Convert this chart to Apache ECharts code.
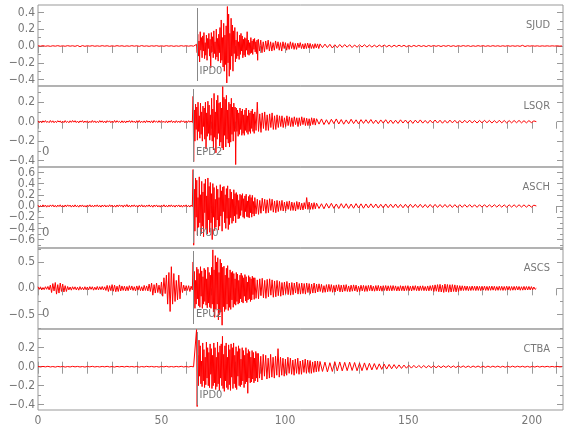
<!DOCTYPE html>
<html><head><meta charset="utf-8">
<script src="https://cdn.jsdelivr.net/npm/echarts@6/dist/echarts.min.js"></script>
<style>html,body{margin:0;padding:0;background:#fff}#c{width:580px;height:440px}</style>
</head><body><div id="c"></div>
<script>
// ---------------- DATA ----------------
const stations = ['SJUD', 'LSQR', 'ASCH', 'ASCS', 'CTBA'];
const pickLabels = ['IPD0', 'EPD2', 'IPU0', 'EPU2', 'IPD0'];
const pickTimes = [64.2, 62.8, 62.8, 62.8, 64.2];
const offsetLabels = ['', '0', '0', '0', ''];
const xTickLabels = [0, 50, 100, 150, 200];
const xTicks = [0, 10, 20, 30, 40, 50, 60, 70, 80, 90, 100, 110, 120, 130, 140, 150, 160, 170, 180, 190, 200, 210];
const yMajor1 = [-0.4, -0.2, 0, 0.2, 0.4];
const yMinor1 = [-0.3, -0.1, 0.1, 0.3];
const yMajor2 = [-0.4, -0.2, 0, 0.2];
const yMinor2 = [-0.3, -0.1, 0.1, 0.3];
const yMajor3 = [-0.6, -0.4, -0.2, 0, 0.2, 0.4, 0.6];
const yMinor3 = [-0.7, -0.5, -0.3, -0.1, 0.1, 0.3, 0.5];
const yMajor4 = [-0.5, 0, 0.5];
const yMinor4 = [-0.75, -0.25, 0.25, 0.75];
const yMajor5 = [-0.4, -0.2, 0, 0.2];
const yMinor5 = [-0.3, -0.1, 0.1, 0.3];

// Each trace: pre-event samples from t=0, event samples from the pick (0.25 s for 25 s,
// then 0.5 s for 25 s), coda samples from pick+50 s.
// SJUD
const sjudPre = [0.003,-0.002,0.004,-0.003,0.002,-0.004,0.003,-0.002,0.004,-0.003,
0.002,-0.003,0.004,-0.002,0.003,-0.004,0.006,-0.008,0.005,-0.004,
0.003,-0.002,0.004,-0.003,0.002,-0.003,0.004,-0.002,0.003,-0.004,
0.002,-0.003,0.004,-0.002,0.003,-0.004,0.002,-0.003,0.004,-0.002,
0.003,-0.004,0.005,-0.003,0.002,-0.004,0.003,-0.002,0.004,-0.003,
0.002,-0.003,0.004,-0.002,0.003,-0.004,0.002,-0.003,0.004,-0.002,
0.003,-0.002,0.003,-0.002];
const sjudEvtA = [0.02,-0.08,0.14,-0.12,0.06,-0.19,0.17,-0.05,0.1,-0.14,
0.12,-0.06,0.16,-0.15,0.04,-0.11,0.13,-0.17,0.09,-0.03,
0.15,-0.12,0.08,-0.26,0.16,-0.07,0.11,-0.14,0.18,-0.09,
0.05,-0.16,0.2,-0.13,0.09,-0.18,0.14,-0.08,0.22,-0.2,
0.31,-0.17,0.1,-0.25,0.27,-0.3,0.13,-0.22,0.24,-0.44,
0.47,-0.2,0.38,-0.36,0.15,-0.28,0.33,-0.12,0.25,-0.3,
0.18,-0.09,0.22,-0.19,0.07,-0.15,0.17,-0.12,0.05,-0.16,
0.13,-0.1,0.15,-0.06,0.12,-0.14,0.08,-0.11,0.1,-0.13,
0.09,-0.05,0.17,-0.1,0.07,-0.11,0.04,-0.09,0.1,-0.08,
0.06,-0.1,0.08,-0.04,0.09,-0.07,0.05,-0.09,0.07,-0.17];
const sjudEvtB = [0.08,-0.06,0.07,-0.08,0.05,-0.07,0.06,-0.04,0.07,-0.06,
0.05,-0.06,0.04,-0.05,0.06,-0.03,0.05,-0.05,0.04,-0.06,
0.05,-0.03,0.04,-0.05,0.03,-0.04,0.05,-0.03,0.04,-0.04,
0.03,-0.04,0.035,-0.02,0.04,-0.03,0.025,-0.035,0.03,-0.03,
0.035,-0.025,0.03,-0.03,0.02,-0.03,0.028,-0.022,0.025,-0.03];
const sjudCoda = [0.025,-0.02,0.022,-0.018,0.02,-0.024,0.015,-0.02,0.018,-0.016,
0.017,-0.014,0.016,-0.018,0.012,-0.015,0.014,-0.012,0.015,-0.013,
0.012,-0.013,0.01,-0.012,0.011,-0.009,0.012,-0.01,0.009,-0.011,
0.009,-0.008,0.01,-0.007,0.008,-0.009,0.006,-0.008,0.007,-0.006,
0.007,-0.006,0.005,-0.007,0.006,-0.005,0.006,-0.004,0.005,-0.006,
0.005,-0.004,0.006,-0.005,0.004,-0.005,0.004,-0.004,0.005,-0.003,
0.004,-0.005,0.003,-0.004,0.004,-0.003,0.004,-0.004,0.003,-0.004,
0.004,-0.003,0.003,-0.004,0.003,-0.003,0.004,-0.003,0.003,-0.003,
0.003,-0.004,0.008,-0.006,0.003,-0.002,0.003,-0.002,0.002,-0.003,
0.002,-0.002,0.002,-0.002,0.002,-0.001,0.002,-0.001,0.0];

// LSQR
const lsqrPre = [0.008,-0.01,0.004,-0.012,0.009,-0.006,0.011,-0.008,0.003,-0.01,
0.012,-0.007,0.009,-0.011,0.005,-0.009,0.01,-0.004,0.008,-0.012,
0.006,-0.01,0.011,-0.008,0.004,-0.011,0.009,-0.007,0.012,-0.005,
0.01,-0.009,0.006,-0.012,0.008,-0.004,0.011,-0.01,0.007,-0.008,
0.009,-0.012,0.005,-0.009,0.012,-0.007,0.008,-0.011,0.004,-0.01,
0.011,-0.006,0.009,-0.01,0.007,-0.012,0.01,-0.005,0.009,-0.011,
0.006,-0.009,0.012,-0.008,0.01,-0.006,0.004,-0.011,0.009,-0.01,
0.008,-0.012,0.007,-0.005,0.011,-0.009,0.01,-0.007,0.006,-0.012,
0.01,-0.008,0.012,-0.01,0.005,-0.009,0.008,-0.011,0.011,-0.006,
0.007,-0.01,0.009,-0.012,0.012,-0.005,0.006,-0.009,0.01,-0.008,
0.011,-0.007,0.004,-0.01,0.009,-0.012,0.008,-0.006,0.012,-0.009,
0.006,-0.011,0.01,-0.008,0.007,-0.01,0.011,-0.004,0.009,-0.012,
0.008,-0.009,0.01,-0.006,0.007,-0.008];
const lsqrEvtA = [0.26,-0.41,0.12,-0.2,0.18,-0.08,0.15,-0.19,0.2,-0.1,
0.06,-0.17,0.19,-0.13,0.1,-0.2,0.16,-0.05,0.14,-0.18,
0.2,-0.28,0.09,-0.15,0.21,-0.12,0.17,-0.19,0.07,-0.14,
0.24,-0.2,0.13,-0.29,0.29,-0.16,0.1,-0.32,0.22,-0.18,
0.27,-0.12,0.19,-0.25,0.2,-0.21,0.14,-0.27,0.36,-0.29,
0.25,-0.14,0.23,-0.26,0.27,-0.18,0.12,-0.22,0.2,-0.26,
0.18,-0.21,0.24,-0.13,0.15,-0.2,0.19,-0.1,0.15,-0.44,
0.14,-0.1,0.12,-0.15,0.09,-0.13,0.14,-0.08,0.11,-0.14,
0.13,-0.12,0.07,-0.14,0.12,-0.09,0.14,-0.11,0.06,-0.13,
0.12,-0.1,0.09,-0.12,0.11,-0.07,0.13,-0.1,0.08,-0.12];
const lsqrEvtB = [0.1,-0.09,0.2,-0.1,0.08,-0.11,0.09,-0.07,0.1,-0.09,
0.07,-0.09,0.08,-0.06,0.09,-0.08,0.06,-0.08,0.07,-0.06,
0.06,-0.05,0.06,-0.06,0.04,-0.05,0.06,-0.04,0.05,-0.05,
0.04,-0.05,0.05,-0.03,0.04,-0.05,0.04,-0.04,0.05,-0.03,
0.04,-0.04,0.035,-0.04,0.03,-0.04,0.04,-0.03,0.035,-0.035];
const lsqrCoda = [0.03,-0.025,0.028,-0.03,0.02,-0.027,0.025,-0.02,0.028,-0.024,
0.022,-0.026,0.018,-0.022,0.025,-0.02,0.019,-0.023,0.021,-0.018,
0.02,-0.017,0.022,-0.019,0.016,-0.021,0.018,-0.015,0.02,-0.018,
0.017,-0.019,0.015,-0.018,0.019,-0.014,0.017,-0.016,0.015,-0.018,
0.016,-0.014,0.018,-0.015,0.013,-0.016,0.015,-0.013,0.017,-0.014,
0.015,-0.016,0.013,-0.015,0.016,-0.012,0.014,-0.015,0.012,-0.014,
0.014,-0.012,0.015,-0.013,0.011,-0.014,0.013,-0.012,0.014,-0.011,
0.013,-0.014,0.011,-0.013,0.014,-0.012,0.012,-0.013,0.011,-0.012,
0.012,-0.011,0.013,-0.012,0.01,-0.012,0.011,-0.01,0.008,0.0];

// ASCH
const aschPre = [0.015,-0.02,0.008,-0.018,0.02,-0.012,0.017,-0.021,0.01,-0.016,
0.019,-0.009,0.02,-0.017,0.012,-0.02,0.016,-0.011,0.021,-0.018,
0.011,-0.019,0.018,-0.014,0.02,-0.008,0.016,-0.02,0.013,-0.017,
0.02,-0.015,0.01,-0.021,0.017,-0.012,0.019,-0.018,0.009,-0.02,
0.018,-0.011,0.021,-0.016,0.012,-0.019,0.016,-0.01,0.02,-0.017,
0.012,-0.02,0.017,-0.013,0.019,-0.018,0.01,-0.016,0.021,-0.012,
0.017,-0.019,0.011,-0.02,0.018,-0.014,0.02,-0.009,0.015,-0.021,
0.019,-0.012,0.025,-0.018,0.014,-0.02,0.017,-0.011,0.02,-0.016,
0.01,-0.019,0.018,-0.013,0.021,-0.017,0.012,-0.02,0.016,-0.01,
0.02,-0.016,0.013,-0.021,0.017,-0.011,0.019,-0.018,0.01,-0.02,
0.016,-0.012,0.021,-0.017,0.011,-0.019,0.018,-0.013,0.02,-0.015,
0.012,-0.02,0.017,-0.01,0.019,-0.018,0.014,-0.021,0.016,-0.012,
0.02,-0.016,0.011,-0.019,0.017,-0.013];
const aschEvtA = [0.65,-0.7,0.3,-0.45,0.5,-0.2,0.46,-0.52,0.15,-0.38,
0.52,-0.3,0.2,-0.5,0.44,-0.36,0.25,-0.55,0.4,-0.12,
0.48,-0.42,0.18,-0.5,0.5,-0.25,0.35,-0.47,0.42,-0.3,
0.22,-0.6,0.4,-0.2,0.33,-0.44,0.12,-0.38,0.36,-0.25,
0.3,-0.43,0.15,-0.36,0.38,-0.18,0.27,-0.45,0.34,-0.1,
0.35,-0.3,0.2,-0.4,0.31,-0.22,0.36,-0.42,0.14,-0.33,
0.3,-0.21,0.25,-0.31,0.12,-0.27,0.29,-0.18,0.22,-0.3,
0.24,-0.15,0.2,-0.23,0.1,-0.22,0.21,-0.17,0.19,-0.08,
0.22,-0.2,0.13,-0.22,0.18,-0.1,0.21,-0.19,0.09,-0.2,
0.17,-0.21,0.2,-0.12,0.15,-0.2,0.19,-0.14,0.08,-0.18];
const aschEvtB = [0.15,-0.14,0.12,-0.15,0.1,-0.13,0.14,-0.09,0.12,-0.13,
0.11,-0.12,0.13,-0.08,0.12,-0.11,0.09,-0.12,0.1,-0.1,
0.09,-0.08,0.1,-0.09,0.07,-0.09,0.08,-0.06,0.09,-0.08,
0.07,-0.08,0.06,-0.09,0.08,-0.06,0.07,-0.07,0.05,-0.07,
0.06,-0.05,0.15,-0.06,0.07,-0.06,0.05,-0.06,0.06,-0.05];
const aschCoda = [0.05,-0.045,0.04,-0.05,0.045,-0.038,0.048,-0.042,0.036,-0.045,
0.042,-0.038,0.04,-0.044,0.035,-0.04,0.042,-0.036,0.038,-0.04,
0.036,-0.034,0.038,-0.032,0.035,-0.037,0.03,-0.034,0.036,-0.031,
0.032,-0.03,0.034,-0.031,0.028,-0.032,0.03,-0.029,0.031,-0.028,
0.029,-0.027,0.03,-0.028,0.026,-0.029,0.027,-0.025,0.028,-0.026,
0.026,-0.025,0.027,-0.024,0.025,-0.026,0.024,-0.025,0.023,-0.024,
0.024,-0.022,0.025,-0.023,0.022,-0.024,0.023,-0.021,0.024,-0.022,
0.022,-0.021,0.023,-0.02,0.022,-0.021,0.02,-0.022,0.021,-0.02,
0.021,-0.02,0.022,-0.019,0.02,-0.021,0.019,-0.02,0.015,0.0];

// ASCS (pre-event at 0.5 s, coda at 0.5 s)
const ascsPre = [0.03,-0.02,0.028,-0.032,0.015,-0.025,0.03,-0.018,0.035,-0.03,
0.06,-0.08,0.09,-0.05,0.11,-0.11,0.07,-0.09,0.1,-0.06,
0.08,-0.07,0.05,-0.06,0.035,-0.03,0.025,-0.035,0.03,-0.02,
0.028,-0.03,0.02,-0.035,0.032,-0.025,0.018,-0.03,0.03,-0.028,
0.025,-0.03,0.032,-0.02,0.03,-0.035,0.022,-0.028,0.035,-0.03,
0.03,-0.025,0.035,-0.03,0.028,-0.04,0.055,-0.06,0.05,-0.045,
0.07,-0.055,0.06,-0.065,0.04,-0.06,0.065,-0.05,0.045,-0.04,
0.04,-0.05,0.035,-0.045,0.05,-0.03,0.045,-0.04,0.03,-0.05,
0.045,-0.035,0.05,-0.045,0.03,-0.05,0.055,-0.04,0.045,-0.05,
0.08,-0.06,0.1,-0.13,0.07,-0.09,0.1,-0.08,0.06,-0.1,
0.12,-0.15,0.2,-0.1,0.25,-0.3,0.3,-0.44,0.41,-0.3,
0.28,-0.25,0.15,-0.22,0.25,-0.2,0.12,-0.08,0.06,-0.05,
0.05,-0.04,0.05,-0.06,0.04,-0.03];
const ascsEvtA = [0.5,-0.25,0.32,-0.38,0.15,-0.3,0.4,-0.2,0.36,-0.33,
0.28,-0.36,0.41,-0.15,0.33,-0.38,0.22,-0.3,0.38,-0.25,
0.35,-0.32,0.18,-0.37,0.4,-0.28,0.3,-0.36,0.25,-0.38,
0.4,-0.3,0.73,-0.45,0.35,-0.55,0.62,-0.4,0.5,-0.3,
0.58,-0.6,0.3,-0.5,0.55,-0.45,0.48,-0.7,0.4,-0.35,
0.42,-0.44,0.25,-0.4,0.38,-0.3,0.43,-0.42,0.2,-0.36,
0.35,-0.4,0.3,-0.22,0.32,-0.36,0.28,-0.3,0.18,-0.32,
0.3,-0.25,0.27,-0.3,0.15,-0.28,0.25,-0.2,0.29,-0.26,
0.24,-0.28,0.2,-0.15,0.26,-0.24,0.22,-0.27,0.12,-0.22,
0.24,-0.2,0.21,-0.25,0.18,-0.22,0.23,-0.12,0.2,-0.21];
const ascsEvtB = [0.2,-0.19,0.16,-0.2,0.18,-0.14,0.19,-0.18,0.15,-0.19,
0.17,-0.16,0.18,-0.13,0.16,-0.17,0.14,-0.16,0.15,-0.14,
0.13,-0.15,0.11,-0.13,0.12,-0.1,0.13,-0.12,0.1,-0.13,
0.11,-0.12,0.1,-0.09,0.12,-0.11,0.09,-0.11,0.1,-0.1,
0.09,-0.11,0.1,-0.08,0.09,-0.1,0.08,-0.09,0.1,-0.09];
const ascsCoda = [0.08,-0.07,0.085,-0.06,0.075,-0.08,0.05,-0.075,0.07,-0.065,
0.075,-0.06,0.07,-0.075,0.055,-0.07,0.065,-0.05,0.07,-0.068,
0.06,-0.07,0.065,-0.055,0.07,-0.06,0.045,-0.065,0.06,-0.055,
0.065,-0.05,0.06,-0.065,0.04,-0.06,0.058,-0.05,0.055,-0.06,
0.05,-0.058,0.055,-0.045,0.06,-0.052,0.04,-0.055,0.052,-0.048,
0.055,-0.05,0.045,-0.055,0.05,-0.04,0.052,-0.05,0.048,-0.045,
0.05,-0.048,0.052,-0.04,0.046,-0.05,0.035,-0.048,0.05,-0.045,
0.045,-0.05,0.048,-0.042,0.05,-0.046,0.04,-0.05,0.047,-0.038,
0.05,-0.045,0.042,-0.048,0.046,-0.04,0.048,-0.045,0.035,-0.047,
0.045,-0.048,0.05,-0.042,0.055,-0.06,0.065,-0.055,0.07,-0.065,
0.075,-0.07,0.06,-0.078,0.08,-0.065,0.072,-0.075,0.068,-0.07,
0.07,-0.06,0.065,-0.068,0.055,-0.06,0.05,-0.045,0.048,-0.042,
0.045,-0.04,0.042,-0.045,0.035,-0.042,0.044,-0.038,0.04,-0.043,
0.042,-0.04,0.038,-0.044,0.04,-0.035,0.042,-0.04,0.036,-0.041,
0.04,-0.038,0.042,-0.035,0.039,-0.041,0.033,-0.038,0.04,-0.037,
0.038,-0.04,0.035,-0.038,0.04,-0.033,0.037,-0.039,0.034,-0.036,
0.036,-0.035,0.038,-0.032,0.035,-0.037,0.03,-0.035,0.036,-0.033,
0.034,-0.032,0.035,-0.03,0.032,-0.03,0.025,-0.02,0.0];

// CTBA
const ctbaPre = [0.002,-0.003,0.003,-0.002,0.004,-0.003,0.002,-0.004,0.003,-0.002,
0.003,-0.004,0.002,-0.003,0.004,-0.002,0.003,-0.003,0.002,-0.004,
0.003,-0.002,0.004,-0.003,0.002,-0.003,0.003,-0.002,0.004,-0.003,
0.002,-0.004,0.003,-0.002,0.003,-0.003,0.004,-0.002,0.002,-0.003,
0.003,-0.004,0.002,-0.003,0.004,-0.002,0.003,-0.003,0.002,-0.004,
0.003,-0.002,0.004,-0.003,0.002,-0.003,0.003,-0.002,0.004,-0.003,
0.002,-0.003,0.003,-0.002];
const ctbaEvtA = [0.39,-0.42,0.12,-0.2,0.28,-0.1,0.22,-0.18,0.06,-0.21,
0.25,-0.15,0.18,-0.22,0.1,-0.19,0.26,-0.12,0.2,-0.2,
0.15,-0.22,0.24,-0.08,0.19,-0.23,0.12,-0.2,0.25,-0.17,
0.2,-0.24,0.1,-0.21,0.26,-0.18,0.15,-0.25,0.22,-0.12,
0.24,-0.2,0.32,-0.23,0.13,-0.26,0.22,-0.15,0.25,-0.22,
0.1,-0.24,0.23,-0.19,0.18,-0.25,0.24,-0.11,0.2,-0.23,
0.25,-0.18,0.12,-0.22,0.21,-0.24,0.16,-0.1,0.22,-0.2,
0.19,-0.21,0.08,-0.19,0.2,-0.15,0.17,-0.22,0.12,-0.18,
0.2,-0.16,0.14,-0.28,0.18,-0.12,0.16,-0.17,0.1,-0.16,
0.17,-0.13,0.15,-0.17,0.09,-0.15,0.16,-0.12,0.14,-0.16];
const ctbaEvtB = [0.14,-0.12,0.11,-0.14,0.13,-0.1,0.12,-0.13,0.09,-0.12,
0.13,-0.11,0.1,-0.12,0.11,-0.09,0.19,-0.11,0.1,-0.09,
0.09,-0.1,0.08,-0.09,0.1,-0.07,0.09,-0.08,0.07,-0.09,
0.08,-0.07,0.09,-0.08,0.06,-0.08,0.07,-0.06,0.08,-0.07,
0.07,-0.06,0.065,-0.07,0.05,-0.06,0.06,-0.055,0.06,-0.05];
const ctbaCoda = [0.055,-0.05,0.048,-0.055,0.042,-0.05,0.052,-0.045,0.05,-0.044,
0.046,-0.042,0.048,-0.04,0.044,-0.043,0.038,-0.042,0.04,-0.037,
0.036,-0.034,0.033,-0.03,0.03,-0.028,0.027,-0.025,0.024,-0.022,
0.022,-0.02,0.019,-0.018,0.017,-0.016,0.015,-0.015,0.014,-0.013,
0.013,-0.012,0.012,-0.011,0.011,-0.01,0.01,-0.011,0.009,-0.01,
0.009,-0.008,0.01,-0.009,0.008,-0.009,0.008,-0.007,0.008,-0.008,
0.007,-0.008,0.007,-0.006,0.007,-0.007,0.006,-0.007,0.006,-0.006,
0.006,-0.005,0.006,-0.006,0.005,-0.006,0.005,-0.005,0.006,-0.005,
0.005,-0.004,0.005,-0.005,0.004,-0.005,0.004,-0.004,0.005,-0.004,
0.004,-0.003,0.004,-0.003,0.003,-0.003,0.003,-0.002,0.0];

// ---------------- BUILD ----------------
function seg(t0, dt, vals) { return vals.map((v, i) => [Math.round((t0 + i * dt) * 100) / 100, v]); }
function event(pick, a, b) { return [...seg(pick, 0.25, a), ...seg(pick + 25, 0.5, b)]; }
const traces = [
  [...seg(0, 1, sjudPre), ...event(pickTimes[0], sjudEvtA, sjudEvtB), ...seg(pickTimes[0] + 50, 1, sjudCoda)],
  [...seg(0, 0.5, lsqrPre), ...event(pickTimes[1], lsqrEvtA, lsqrEvtB), ...seg(pickTimes[1] + 50, 1, lsqrCoda)],
  [...seg(0, 0.5, aschPre), ...event(pickTimes[2], aschEvtA, aschEvtB), ...seg(pickTimes[2] + 50, 1, aschCoda)],
  [...seg(0, 0.5, ascsPre), ...event(pickTimes[3], ascsEvtA, ascsEvtB), ...seg(pickTimes[3] + 50, 0.5, ascsCoda)],
  [...seg(0, 1, ctbaPre), ...event(pickTimes[4], ctbaEvtA, ctbaEvtB), ...seg(pickTimes[4] + 50, 1, ctbaCoda)]
];
const panels = [
  { min: -0.476, max: 0.488, major: yMajor1, minor: yMinor1 },
  { min: -0.465, max: 0.366, major: yMajor2, minor: yMinor2 },
  { min: -0.75, max: 0.696, major: yMajor3, minor: yMinor3 },
  { min: -0.772, max: 0.765, major: yMajor4, minor: yMinor4 },
  { min: -0.456, max: 0.397, major: yMajor5, minor: yMinor5 }
];

const FONT = '"Liberation Sans Narrow", "DejaVu Sans Condensed", sans-serif';
const AX = '#999', TXT = '#777';
const TOP0 = 5, PH = 81, LEFT = 38, RIGHT = 17, XMAX = 212.6;
const fmt = v => (Math.abs(v) < 1e-9 ? '0.0' : v.toFixed(1)).replace('-', '\u2212');

const chart = echarts.init(document.getElementById('c'), null, { renderer: 'canvas' });
const grids = [], xAxes = [], yAxes = [], series = [], xIdx = [];
panels.forEach((p, k) => {
  grids.push({ left: LEFT, right: RIGHT, top: TOP0 + k * PH, height: PH, show: true,
    borderColor: AX, borderWidth: 1, backgroundColor: 'transparent', containLabel: false });
  xIdx.push(xAxes.length);
  xAxes.push({ type: 'value', gridIndex: k, min: 0, max: XMAX, position: 'top',
    axisLine: { show: false }, splitLine: { show: false }, axisLabel: { show: false },
    axisTick: { show: true, inside: true, length: 7, customValues: xTicks, lineStyle: { color: AX } } });
  if (k === panels.length - 1) {
    xAxes.push({ type: 'value', gridIndex: k, min: 0, max: XMAX, position: 'bottom',
      axisLine: { show: false }, splitLine: { show: false },
      axisLabel: { show: true, customValues: xTickLabels, color: TXT, fontSize: 12, fontFamily: FONT, margin: 5,
        hideOverlap: false, showMinLabel: true, showMaxLabel: true },
      axisTick: { show: true, inside: true, length: 5, customValues: xTicks, lineStyle: { color: AX } } });
  }
  const yi = yAxes.length;
  const base = { type: 'value', gridIndex: k, min: p.min, max: p.max, axisLine: { show: false }, splitLine: { show: false } };
  // labels split over two axes so that none of the tightly spaced labels is dropped
  const labA = p.major.filter((_, i) => i % 2 === 0), labB = p.major.filter((_, i) => i % 2 === 1);
  [labA, labB].forEach((labs) => {
    yAxes.push(Object.assign({}, base, { position: 'left',
      axisLabel: { show: labs.length > 0, customValues: labs.length ? labs : [0], formatter: fmt, color: TXT, fontSize: 12,
        fontFamily: FONT, margin: 3, hideOverlap: false, showMinLabel: true, showMaxLabel: true },
      axisTick: { show: true, inside: true, length: 6, customValues: labs.length ? labs : [0], lineStyle: { color: AX } } }));
  });
  yAxes.push(Object.assign({}, base, { position: 'left', axisLabel: { show: false },
    axisTick: { show: true, inside: true, length: 3, customValues: p.minor, lineStyle: { color: AX } } }));
  yAxes.push(Object.assign({}, base, { position: 'right', axisLabel: { show: false },
    axisTick: { show: true, inside: true, length: 6, customValues: p.major, lineStyle: { color: AX } } }));
  yAxes.push(Object.assign({}, base, { position: 'right', axisLabel: { show: false },
    axisTick: { show: true, inside: true, length: 3, customValues: p.minor, lineStyle: { color: AX } } }));
  series.push({ type: 'line', name: stations[k], xAxisIndex: xIdx[k], yAxisIndex: yi, data: traces[k],
    showSymbol: false, symbol: 'none', sampling: null, silent: true,
    lineStyle: { color: '#ff0000', width: 1, join: 'bevel', cap: 'butt' } });
});

chart.setOption({ animation: false, backgroundColor: '#fff', grid: grids, xAxis: xAxes, yAxis: yAxes, series: series });

const g = [];
panels.forEach((p, k) => {
  const top = TOP0 + k * PH;
  const px = chart.convertToPixel({ xAxisIndex: xIdx[k] }, pickTimes[k]);
  g.push({ type: 'line', silent: true, z: 100, shape: { x1: Math.round(px) + 0.5, y1: top + 3, x2: Math.round(px) + 0.5, y2: top + PH - 5 },
    style: { stroke: '#888', lineWidth: 1 } });
  g.push({ type: 'text', silent: true, z: 100, x: px + 3, y: top + 66,
    style: { text: pickLabels[k], fill: TXT, font: '11px ' + FONT, align: 'left', verticalAlign: 'middle' } });
  g.push({ type: 'text', silent: true, z: 100, x: 550, y: top + 20,
    style: { text: stations[k], fill: TXT, font: '11px ' + FONT, align: 'right', verticalAlign: 'middle' } });
  if (offsetLabels[k]) {
    g.push({ type: 'text', silent: true, z: 100, x: 42, y: top + 66,
      style: { text: offsetLabels[k], fill: TXT, font: '13px ' + FONT, align: 'left', verticalAlign: 'middle' } });
  }
});
chart.setOption({ graphic: g });

// keep every short segment of the dense traces (ECharts merges segments under 2 px by default;
// a zero threshold is ignored by zrender, so use a tiny positive one)
const zr = chart.getZr();
zr.storage.getDisplayList(true).forEach(el => {
  if (el.segmentIgnoreThreshold) {
    el.segmentIgnoreThreshold = 0.01;
    if (el.dirtyShape) el.dirtyShape();
    el.dirty();
  }
});
zr.refreshImmediately();
</script>
</body></html>
